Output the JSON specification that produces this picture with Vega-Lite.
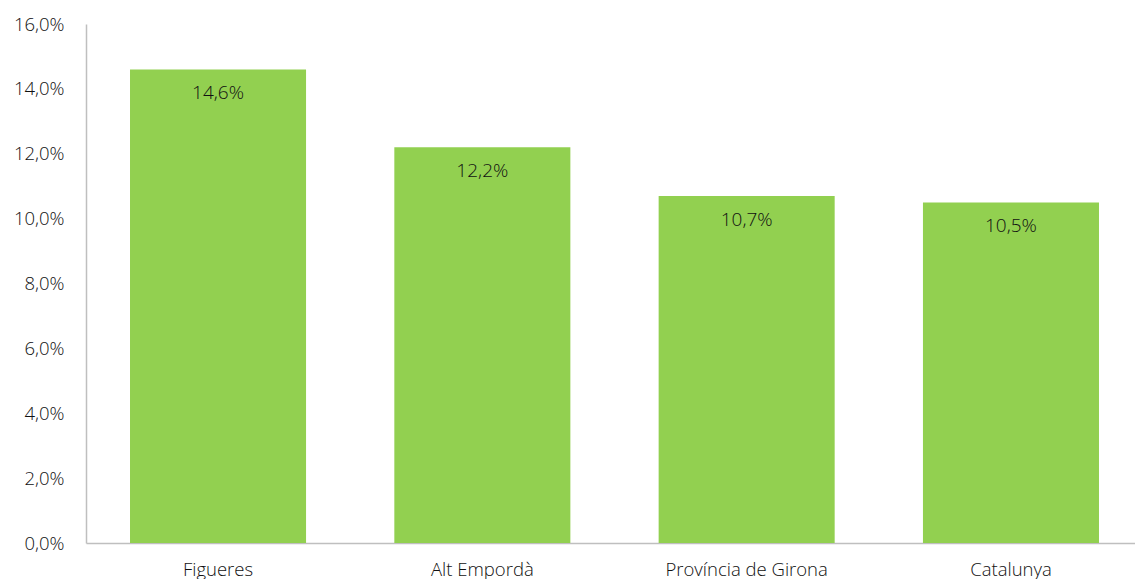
{
  "$schema": "https://vega.github.io/schema/vega-lite/v6.json",
  "autosize": {"type": "none"},
  "width": 1057,
  "height": 519,
  "padding": {"left": 86, "top": 24, "right": 0, "bottom": 36},
  "background": "white",
  "config": {
    "view": {"stroke": null},
    "locale": {"number": {"decimal": ",", "thousands": ".", "grouping": [3], "currency": ["", " €"]}},
    "font": "Open Sans"
  },
  "data": {"values": [
    {"area": "Figueres", "value": 0.146},
    {"area": "Alt Empordà", "value": 0.122},
    {"area": "Província de Girona", "value": 0.107},
    {"area": "Catalunya", "value": 0.105}
  ]},
  "encoding": {
    "x": {
      "field": "area", "type": "nominal", "sort": null,
      "scale": {"paddingInner": 0.334, "paddingOuter": 0.1665},
      "axis": {"title": null, "labelAngle": 0, "ticks": false, "domainColor": "#bfbfbf", "domainWidth": 1.5,
               "labelFontSize": 18.5, "labelColor": "#111111", "labelPadding": 17, "labelFont": "Open Sans", "labelFontWeight": 300}
    },
    "y": {
      "field": "value", "type": "quantitative",
      "scale": {"domain": [0, 0.16], "nice": false},
      "axis": {"title": null, "format": ".1%", "values": [0,0.02,0.04,0.06,0.08,0.1,0.12,0.14,0.16], "labelOverlap": false,
               "grid": false, "ticks": false, "domainColor": "#bfbfbf", "domainWidth": 1.5,
               "labelFontSize": 18.5, "labelColor": "#111111", "labelPadding": 22, "labelFont": "Open Sans", "labelFontWeight": 300}
    }
  },
  "layer": [
    {"mark": {"type": "bar", "color": "#92d050"}},
    {"mark": {"type": "text", "baseline": "middle", "dy": 24, "fontSize": 19, "color": "#111111", "font": "Open Sans", "fontWeight": 300},
     "encoding": {"text": {"field": "value", "type": "quantitative", "format": ".1%"}}}
  ]
}
